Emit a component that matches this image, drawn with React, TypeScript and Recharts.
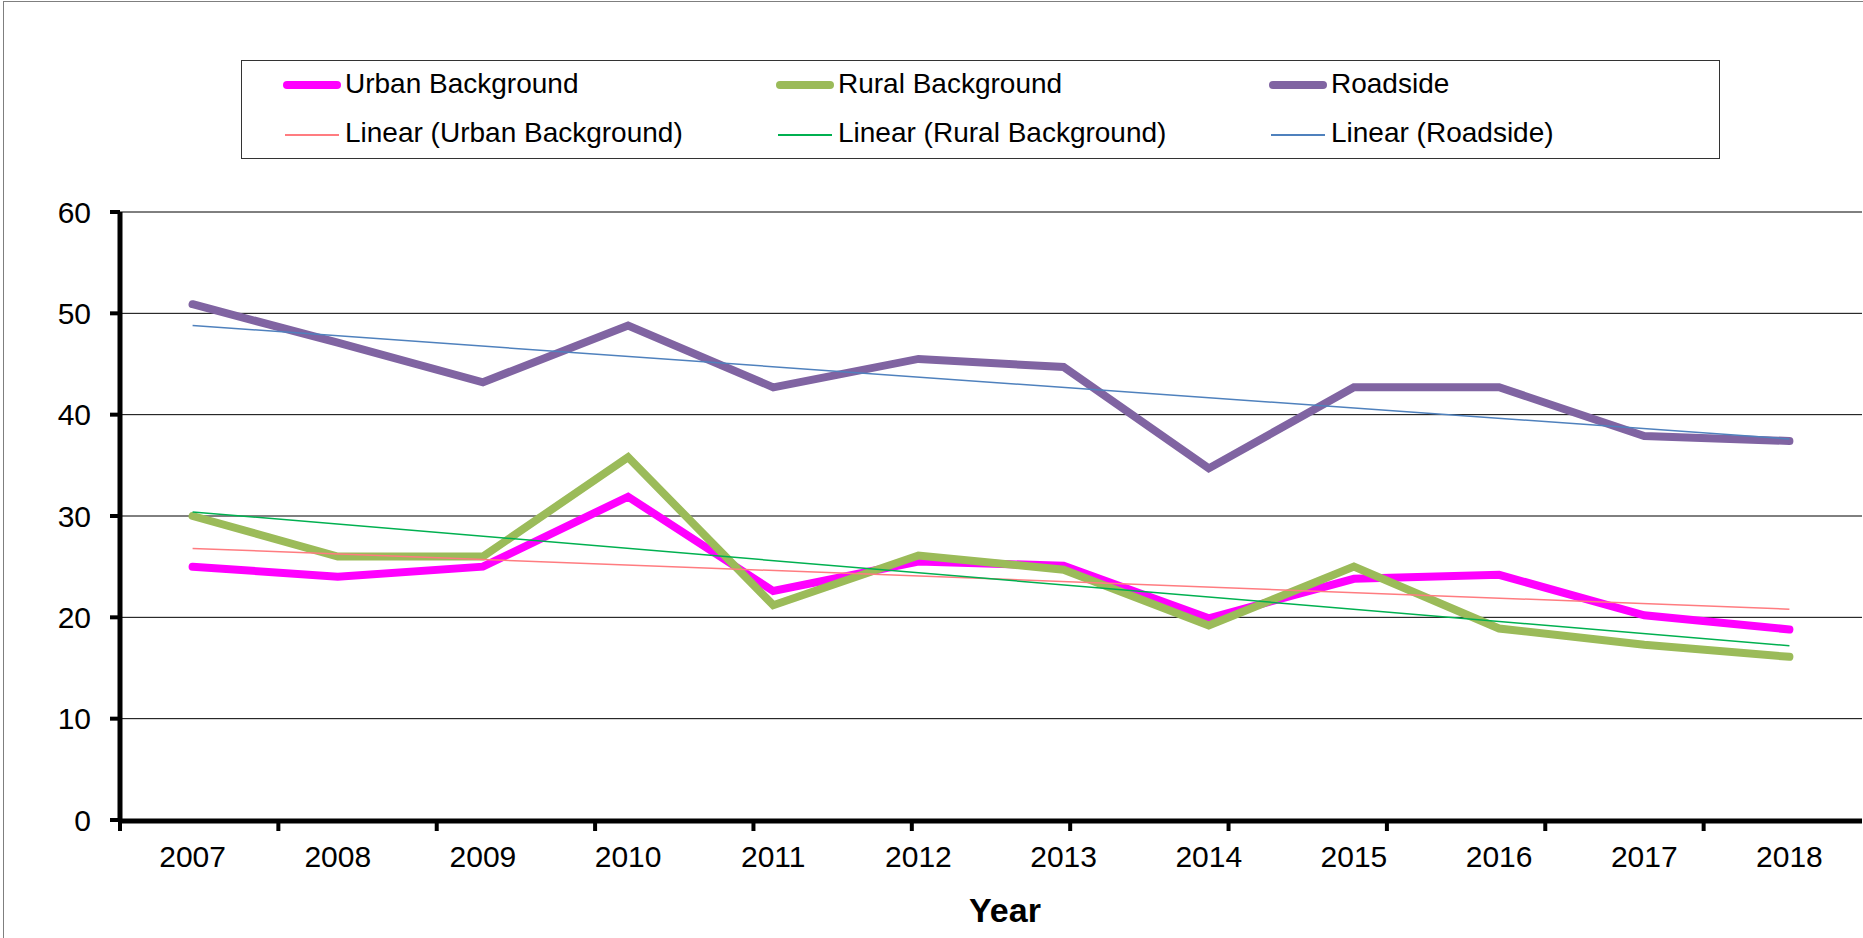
import React from 'react';
import { CartesianGrid, Legend, Line, LineChart, ReferenceLine, XAxis, YAxis } from 'recharts';

const years = ['2007', '2008', '2009', '2010', '2011', '2012', '2013', '2014', '2015', '2016', '2017', '2018'];
const urbanBackground = [25.0, 24.0, 25.0, 31.9, 22.6, 25.5, 25.1, 19.9, 23.8, 24.2, 20.2, 18.8];
const ruralBackground = [30.0, 26.0, 26.0, 35.8, 21.2, 26.1, 24.7, 19.2, 25.0, 18.9, 17.3, 16.1];
const roadside = [50.9, 47.1, 43.2, 48.8, 42.7, 45.5, 44.7, 34.7, 42.7, 42.7, 37.9, 37.4];

// linear trend lines, values read at 2007 and 2018
const urbanTrend = [26.8, 20.8];
const ruralTrend = [30.4, 17.2];
const roadsideTrend = [48.8, 37.6];

const seriesNames = ['Urban Background', 'Rural Background', 'Roadside'];
const trendNames = ['Linear (Urban Background)', 'Linear (Rural Background)', 'Linear (Roadside)'];
const yTicks = [0, 10, 20, 30, 40, 50, 60];
const yearEdges = [0, 1, 2, 3, 4, 5, 6, 7, 8, 9, 10, 11, 12];

const seriesColors = ['#FF00FF', '#9BBB59', '#8064A2'];
const trendColors = ['#FF7C80', '#00B050', '#4F81BD'];
const font = '"Liberation Sans", Arial, sans-serif';

const data = years.map((year, i) => ({
  year,
  urban: urbanBackground[i],
  rural: ruralBackground[i],
  roadside: roadside[i],
}));

const trends = [urbanTrend, ruralTrend, roadsideTrend];

const Swatch = ({ color, width }: { color: string; width: number }) => (
  <svg width={60} height={12} style={{ display: 'block' }}>
    <line x1={width > 3 ? 4 : 2} x2={width > 3 ? 54 : 56} y1={6} y2={6} stroke={color} strokeWidth={width} strokeLinecap={width > 3 ? 'round' : 'butt'} />
  </svg>
);

const LegendBox = () => (
  <div
    style={{
      position: 'relative',
      boxSizing: 'border-box',
      width: 1479,
      height: 99,
      border: '1px solid #333',
      background: '#fff',
      fontFamily: font,
      fontSize: 28,
      lineHeight: '28px',
      color: '#000',
    }}
  >
    {seriesNames.map((name, i) => (
      <React.Fragment key={name}>
        <div style={{ position: 'absolute', left: 41 + i * 493, top: 23.7 - 6 }}>
          <Swatch color={seriesColors[i]} width={8} />
        </div>
        <div style={{ position: 'absolute', left: 103 + i * 493, top: 9.3, whiteSpace: 'nowrap' }}>{name}</div>
        <div style={{ position: 'absolute', left: 41 + i * 493, top: 73.7 - 6 }}>
          <Swatch color={trendColors[i]} width={2} />
        </div>
        <div style={{ position: 'absolute', left: 103 + i * 493, top: 58.3, whiteSpace: 'nowrap' }}>{trendNames[i]}</div>
      </React.Fragment>
    ))}
  </div>
);

export default function App() {
  return (
    <div style={{ position: 'fixed', left: 0, top: 0, width: 1863, height: 938, background: '#fff', overflow: 'hidden' }}>
      <div style={{ position: 'absolute', left: 3, top: 1, width: 2000, height: 1100, border: '1px solid #7f7f7f' }} />
      <div style={{ position: 'absolute', left: 0, top: 0 }}>
        <LineChart width={1863} height={938} data={data} margin={{ top: 212, right: 1, bottom: 116, left: 0 }}>
          <CartesianGrid vertical={false} stroke="#000" strokeWidth={1} />
          <XAxis
            xAxisId="edges"
            type="number"
            domain={[0, 12]}
            allowDataOverflow
            ticks={yearEdges}
            height={1}
            tick={() => <g />}
            tickSize={10}
            axisLine={{ stroke: '#000', strokeWidth: 5 }}
            tickLine={{ stroke: '#000', strokeWidth: 4 }}
          />
          <XAxis
            dataKey="year"
            scale="band"
            height={1}
            axisLine={false}
            tickLine={false}
            tickSize={0}
            tickMargin={26}
            interval={0}
            tick={{ fill: '#000', fontSize: 30, fontFamily: font }}
            label={{ value: 'Year', position: 'bottom', offset: 77, dx: 14, fill: '#000', fontSize: 34, fontWeight: 'bold', fontFamily: font }}
          />
          <YAxis
            width={120}
            domain={[0, 60]}
            ticks={yTicks}
            tickSize={10}
            tickMargin={19}
            axisLine={{ stroke: '#000', strokeWidth: 5 }}
            tickLine={{ stroke: '#000', strokeWidth: 4 }}
            tick={{ fill: '#000', fontSize: 30, fontFamily: font }}
          />
          <ReferenceLine xAxisId="edges" x={12} stroke="#8a8a8a" strokeWidth={1} />
          <Legend
            layout="horizontal"
            verticalAlign="middle"
            align="center"
            wrapperStyle={{ left: 241, top: 60, width: 1479, height: 99 }}
            content={() => <LegendBox />}
          />
          <Line type="linear" dataKey="urban" name={seriesNames[0]} stroke={seriesColors[0]} strokeWidth={8} dot={false} activeDot={false} strokeLinecap="round" strokeLinejoin="miter" isAnimationActive={false} />
          <Line type="linear" dataKey="rural" name={seriesNames[1]} stroke={seriesColors[1]} strokeWidth={8} dot={false} activeDot={false} strokeLinecap="round" strokeLinejoin="miter" isAnimationActive={false} />
          <Line type="linear" dataKey="roadside" name={seriesNames[2]} stroke={seriesColors[2]} strokeWidth={8} dot={false} activeDot={false} strokeLinecap="round" strokeLinejoin="miter" isAnimationActive={false} />
          {trends.map((t, i) => (
            <ReferenceLine
              key={trendNames[i]}
              segment={[
                { x: years[0], y: t[0] },
                { x: years[years.length - 1], y: t[1] },
              ]}
              stroke={trendColors[i]}
              strokeWidth={1.5}
            />
          ))}
        </LineChart>
      </div>
    </div>
  );
}
